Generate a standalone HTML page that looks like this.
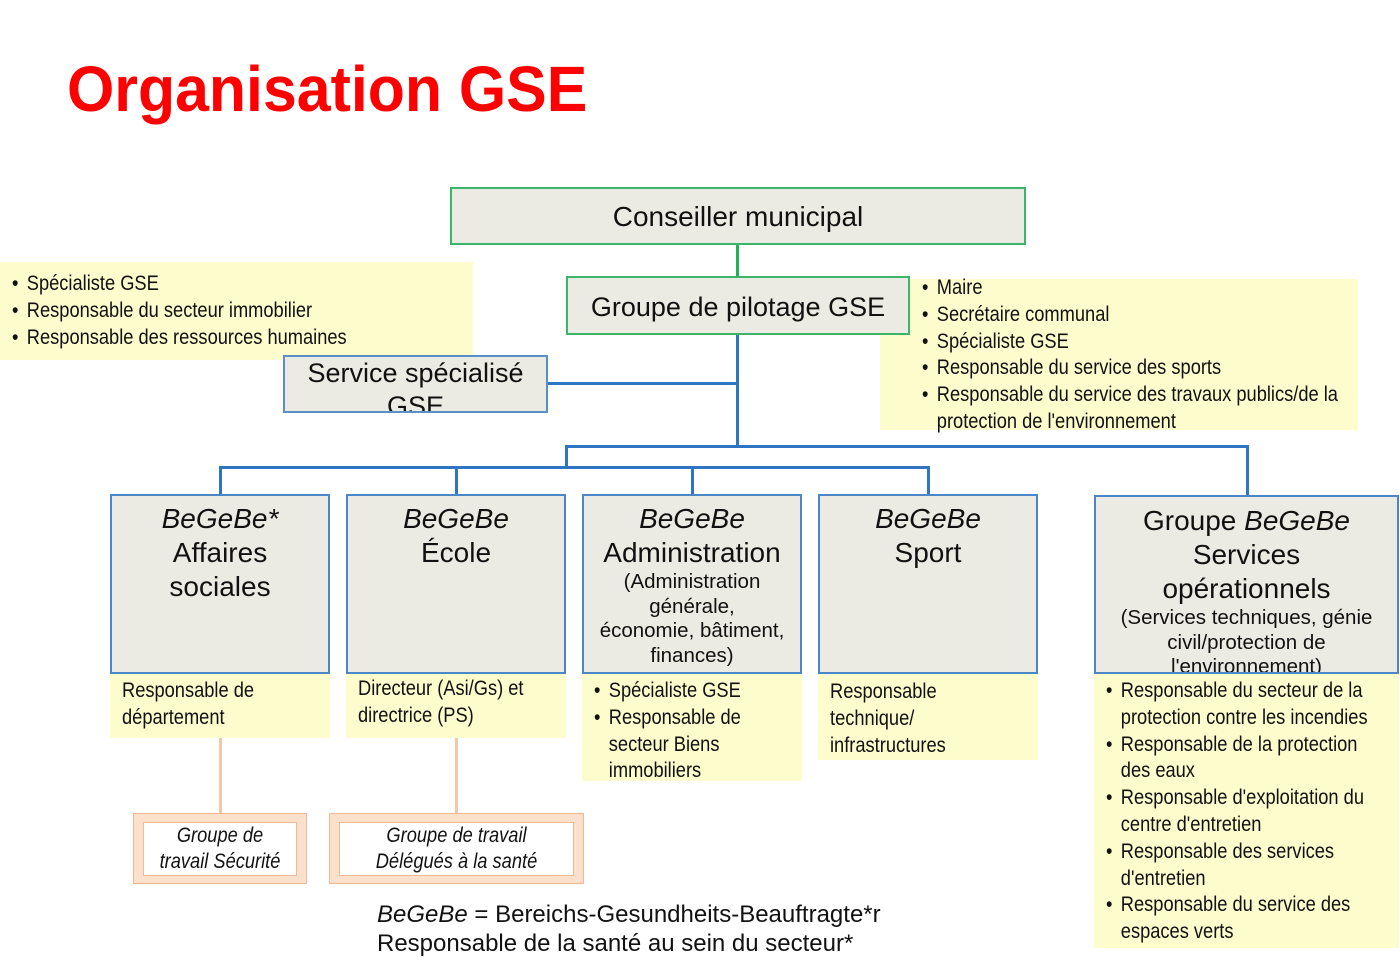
<!DOCTYPE html>
<html><head><meta charset="utf-8"><style>
*{margin:0;padding:0;box-sizing:border-box}
body{width:1400px;height:973px;background:#fff;position:relative;overflow:hidden;font-family:"Liberation Sans",sans-serif;color:#111}
.a{position:absolute}
.ln{position:absolute;background:#2e75c4}
.gray{position:absolute;background:#ebeae3;border:2px solid #4a86c8;text-align:center}
.yel{position:absolute;background:#fdfccd}
.nar{font-family:"Liberation Sans",sans-serif;font-size:21px;line-height:26.8px;color:#111}
.nar div{white-space:nowrap}
.sq{transform:scaleX(0.87);transform-origin:left top}
.sqc{transform:scaleX(0.87);transform-origin:center top}
.b{position:relative;padding-left:17px}
.b:before{content:"•";position:absolute;left:0}
.p{padding-left:17px}
.t{font-size:28px;line-height:34px}
.s{font-size:20.5px;line-height:24.5px}
i{font-style:italic}
</style></head><body>
<div class="a" style="left:67px;top:52px;font:bold 64px 'Liberation Sans',sans-serif;color:#f00;transform:scaleX(0.95);transform-origin:left top;white-space:nowrap">Organisation GSE</div>

<!-- connectors -->
<div class="a" style="left:736px;top:244px;width:3px;height:33px;background:#22b05a"></div>
<div class="ln" style="left:736px;top:334px;width:3px;height:113px"></div>
<div class="ln" style="left:548px;top:382px;width:190px;height:3px"></div>
<div class="ln" style="left:565px;top:445px;width:683px;height:3px"></div>
<div class="ln" style="left:1246px;top:445px;width:3px;height:50px"></div>
<div class="ln" style="left:565px;top:445px;width:3px;height:23px"></div>
<div class="ln" style="left:219px;top:466px;width:710px;height:3px"></div>
<div class="ln" style="left:219px;top:466px;width:3px;height:28px"></div>
<div class="ln" style="left:455px;top:466px;width:3px;height:28px"></div>
<div class="ln" style="left:691px;top:466px;width:3px;height:28px"></div>
<div class="ln" style="left:927px;top:466px;width:3px;height:28px"></div>
<div class="a" style="left:219px;top:738px;width:3px;height:76px;background:#f7c6a8"></div>
<div class="a" style="left:455px;top:738px;width:3px;height:76px;background:#f7c6a8"></div>

<div class="yel nar" style="left:880px;top:279px;width:478px;height:151px;padding-left:42px">
<div class="sq" style="position:relative;top:-4px">
<div class="b">Maire</div><div class="b">Secrétaire communal</div><div class="b">Spécialiste GSE</div><div class="b">Responsable du service des sports</div><div class="b">Responsable du service des travaux publics/de la</div><div class="p">protection de l'environnement</div></div></div>

<!-- top boxes -->
<div class="a" style="left:450px;top:187px;width:576px;height:58px;background:#ebeae3;border:2px solid #3cb56a;text-align:center;font-size:28px;line-height:56px">Conseiller municipal</div>
<div class="a" style="left:566px;top:276px;width:344px;height:59px;background:#ebeae3;border:2px solid #3cb56a;text-align:center;font-size:27px;line-height:58px">Groupe de pilotage GSE</div>

<div class="yel nar" style="left:0;top:262px;width:473px;height:98px;padding:9px 0 0 12px">
<div class="sq"><div class="b">Spécialiste GSE</div><div class="b">Responsable du secteur immobilier</div><div class="b">Responsable des ressources humaines</div></div></div>
<div class="gray" style="left:283px;top:355px;width:265px;height:58px;font-size:27px;line-height:33px;overflow:hidden;border-color:#5a8fc8;padding-top:0">Service spécialisé<br>GSE</div>

<!-- level boxes -->
<div class="gray" style="left:110px;top:494px;width:220px;height:180px;padding-top:6px"><div class="t"><i>BeGeBe*</i><br>Affaires<br>sociales</div></div>
<div class="gray" style="left:346px;top:494px;width:220px;height:180px;padding-top:6px"><div class="t"><i>BeGeBe</i><br>École</div></div>
<div class="gray" style="left:582px;top:494px;width:220px;height:180px;padding-top:6px"><div class="t"><i>BeGeBe</i><br>Administration</div><div class="s">(Administration<br>générale,<br>économie, bâtiment,<br>finances)</div></div>
<div class="gray" style="left:818px;top:494px;width:220px;height:180px;padding-top:6px"><div class="t"><i>BeGeBe</i><br>Sport</div></div>
<div class="gray" style="left:1094px;top:495px;width:305px;height:179px;padding-top:7px;overflow:hidden"><div class="t">Groupe <i>BeGeBe</i><br>Services<br>opérationnels</div><div class="s">(Services techniques, génie<br>civil/protection de<br>l'environnement)</div></div>

<div class="yel nar" style="left:110px;top:674px;width:220px;height:64px;padding:4px 0 0 12px"><div class="sq"><div>Responsable de</div><div>département</div></div></div>
<div class="yel nar" style="left:346px;top:674px;width:220px;height:64px;padding:2px 0 0 12px"><div class="sq"><div>Directeur (Asi/Gs) et</div><div>directrice (PS)</div></div></div>
<div class="yel nar" style="left:582px;top:674px;width:220px;height:107px;padding:4px 0 0 12px"><div class="sq"><div class="b">Spécialiste GSE</div><div class="b">Responsable de</div><div class="p">secteur Biens</div><div class="p">immobiliers</div></div></div>
<div class="yel nar" style="left:818px;top:674px;width:220px;height:86px;padding:5px 0 0 12px"><div class="sq"><div>Responsable</div><div>technique/</div><div>infrastructures</div></div></div>
<div class="yel nar" style="left:1094px;top:674px;width:305px;height:274px;padding:4px 0 0 12px"><div class="sq"><div class="b">Responsable du secteur de la</div><div class="p">protection contre les incendies</div><div class="b">Responsable de la protection</div><div class="p">des eaux</div><div class="b">Responsable d'exploitation du</div><div class="p">centre d'entretien</div><div class="b">Responsable des services</div><div class="p">d'entretien</div><div class="b">Responsable du service des</div><div class="p">espaces verts</div></div></div>

<!-- pink boxes -->
<div class="a" style="left:133px;top:813px;width:174px;height:71px;background:#fbe0cc;border:1px solid #f2b894"></div>
<div class="a nar" style="left:143px;top:822px;width:154px;height:54px;background:#fff;border:1px solid #f2b894;text-align:center;font-style:italic;line-height:26px"><div class="sqc">Groupe de<br>travail Sécurité</div></div>
<div class="a" style="left:329px;top:813px;width:255px;height:71px;background:#fbe0cc;border:1px solid #f2b894"></div>
<div class="a nar" style="left:339px;top:822px;width:235px;height:54px;background:#fff;border:1px solid #f2b894;text-align:center;font-style:italic;line-height:26px"><div class="sqc">Groupe de travail<br>Délégués à la santé</div></div>

<div class="a" style="left:377px;top:900px;font-size:24px;line-height:29px;white-space:nowrap"><i>BeGeBe</i> = Bereichs-Gesundheits-Beauftragte*r<br>Responsable de la santé au sein du secteur*</div>
</body></html>
